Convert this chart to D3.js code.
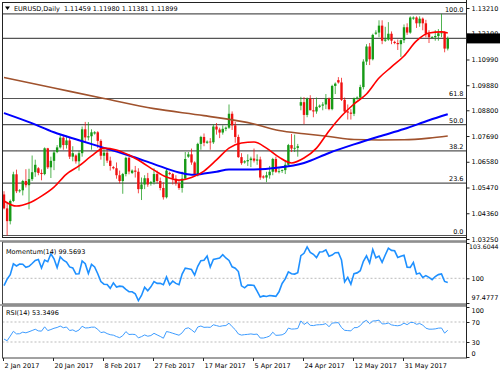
<!DOCTYPE html>
<html>
<head>
<meta charset="utf-8">
<script src="https://cdnjs.cloudflare.com/ajax/libs/d3/7.8.5/d3.min.js"></script>
<style>
  body { margin: 0; background: #fff; }
  text { font-family: "DejaVu Sans", sans-serif; font-size: 6.5px; fill: #000; }
</style>
</head>
<body>
<div id="chart"></div>
<script>
// EURUSD daily bars, 2 Jan - 16 Jun 2017 (broker feed with Sunday bars)
var opens = [
  1.0517,1.0457,1.0402,1.0489,1.0604,1.0531,1.0535,1.0575,1.0557,1.0583,
  1.0613,1.0630,1.0610,1.0605,1.0716,1.0634,1.0662,1.0700,1.0720,1.0762,
  1.0730,1.0750,1.0680,1.0685,1.0660,1.0695,1.0798,1.0763,1.0768,1.0780,
  1.0785,1.0748,1.0684,1.0697,1.0663,1.0635,1.0630,1.0600,1.0575,1.0605,
  1.0675,1.0610,1.0620,1.0615,1.0540,1.0560,1.0587,1.0565,1.0570,1.0605,
  1.0575,1.0545,1.0505,1.0610,1.0605,1.0585,1.0565,1.0545,1.0585,1.0680,
  1.0690,1.0655,1.0605,1.0735,1.0765,1.0740,1.0745,1.0742,1.0810,1.0797,
  1.0784,1.0800,1.0805,1.0865,1.0815,1.0765,1.0678,1.0655,1.0660,1.0665,
  1.0672,1.0663,1.0668,1.0595,1.0590,1.0600,1.0615,1.0670,1.0615,1.0620,
  1.0622,1.0645,1.0730,1.0715,1.0718,1.0900,1.0915,1.0860,1.0930,1.0880,
  1.0875,1.0895,1.0900,1.0905,1.0930,1.0885,1.0985,1.1010,1.1000,1.0925,
  1.0875,1.0870,1.0865,1.0930,1.0935,1.0980,1.1090,1.1155,1.1100,1.1210,
  1.1215,1.1245,1.1180,1.1185,1.1210,1.1175,1.1170,1.1165,1.1182,1.1238,
  1.1215,1.1275,1.1280,1.1255,1.1275,1.1255,1.1210,1.1195,1.1195,1.1200,
  1.1212,1.1215,1.11459
];
var highs = [
  1.0531,1.0485,1.0495,1.0615,1.0624,1.0540,1.0580,1.0626,1.0628,1.0685,
  1.0667,1.0635,1.0625,1.0720,1.0718,1.0680,1.0707,1.0730,1.0775,1.0774,
  1.0770,1.0760,1.0725,1.0690,1.0705,1.0810,1.0830,1.0829,1.0798,1.0790,
  1.0790,1.0755,1.0718,1.0712,1.0680,1.0640,1.0655,1.0620,1.0610,1.0680,
  1.0680,1.0625,1.0640,1.0630,1.0590,1.0600,1.0610,1.0575,1.0630,1.0620,
  1.0590,1.0570,1.0630,1.0615,1.0610,1.0600,1.0575,1.0615,1.0700,1.0700,
  1.0715,1.0660,1.0740,1.0770,1.0780,1.0750,1.0760,1.0820,1.0825,1.0805,
  1.0815,1.0810,1.0905,1.0875,1.0830,1.0775,1.0695,1.0665,1.0690,1.0680,
  1.0715,1.0690,1.0680,1.0600,1.0615,1.0640,1.0675,1.0680,1.0630,1.0625,
  1.0660,1.0735,1.0778,1.0775,1.0735,1.0938,1.0937,1.0935,1.0945,1.0930,
  1.0935,1.0905,1.0915,1.0950,1.0935,1.0990,1.1000,1.1023,1.1020,1.0935,
  1.0905,1.0885,1.0935,1.0940,1.0990,1.1100,1.1165,1.1170,1.1210,1.1225,
  1.1268,1.1268,1.1240,1.1260,1.1220,1.1180,1.1185,1.1185,1.1250,1.1255,
  1.1285,1.1285,1.1285,1.1285,1.1280,1.1270,1.1225,1.1200,1.1225,1.1230,
  1.1296,1.1220,1.11980
];
var lows = [
  1.0453,1.0340,1.0388,1.0484,1.0523,1.0525,1.0513,1.0547,1.0453,1.0575,
  1.0593,1.0600,1.0578,1.0600,1.0627,1.0588,1.0622,1.0695,1.0715,1.0710,
  1.0715,1.0670,1.0660,1.0650,1.0620,1.0680,1.0740,1.0750,1.0710,1.0775,
  1.0717,1.0667,1.0640,1.0653,1.0620,1.0625,1.0585,1.0565,1.0520,1.0595,
  1.0604,1.0605,1.0590,1.0522,1.0493,1.0540,1.0550,1.0555,1.0560,1.0565,
  1.0535,1.0495,1.0500,1.0600,1.0560,1.0555,1.0537,1.0525,1.0580,1.0675,
  1.0645,1.0600,1.0595,1.0710,1.0725,1.0735,1.0710,1.0735,1.0775,1.0760,
  1.0775,1.0790,1.0800,1.0795,1.0740,1.0675,1.0645,1.0650,1.0640,1.0635,
  1.0655,1.0645,1.0580,1.0585,1.0570,1.0585,1.0600,1.0610,1.0608,1.0610,
  1.0605,1.0640,1.0700,1.0700,1.0680,1.0880,1.0820,1.0850,1.0880,1.0850,
  1.0865,1.0890,1.0880,1.0885,1.0880,1.0880,1.0950,1.0995,1.0920,1.0870,
  1.0840,1.0840,1.0855,1.0925,1.0930,1.0970,1.1075,1.1075,1.1095,1.1205,
  1.1195,1.1165,1.1175,1.1180,1.1165,1.1165,1.1140,1.1110,1.1170,1.1205,
  1.1210,1.1270,1.1235,1.1240,1.1225,1.1195,1.1170,1.1190,1.1180,1.1180,
  1.1195,1.1130,1.11381
];
var closes = [
  1.0457,1.0402,1.0489,1.0604,1.0531,1.0535,1.0575,1.0557,1.0583,1.0613,
  1.0645,1.0610,1.0605,1.0716,1.0634,1.0662,1.0698,1.0720,1.0762,1.0730,
  1.0750,1.0680,1.0695,1.0660,1.0695,1.0798,1.0763,1.0768,1.0785,1.0785,
  1.0748,1.0684,1.0697,1.0663,1.0640,1.0630,1.0600,1.0575,1.0605,1.0675,
  1.0616,1.0620,1.0615,1.0540,1.0560,1.0587,1.0560,1.0570,1.0605,1.0575,
  1.0545,1.0505,1.0620,1.0605,1.0585,1.0565,1.0545,1.0585,1.0670,1.0690,
  1.0655,1.0605,1.0735,1.0765,1.0740,1.0745,1.0742,1.0810,1.0797,1.0784,
  1.0800,1.0805,1.0865,1.0815,1.0765,1.0678,1.0652,1.0660,1.0665,1.0672,
  1.0663,1.0668,1.0590,1.0590,1.0600,1.0615,1.0670,1.0615,1.0617,1.0622,
  1.0645,1.0730,1.0715,1.0718,1.0725,1.0915,1.0860,1.0930,1.0880,1.0875,
  1.0895,1.0900,1.0905,1.0930,1.0885,1.0985,1.0995,1.1000,1.0925,1.0875,
  1.0870,1.0865,1.0932,1.0935,1.0980,1.1090,1.1155,1.1100,1.1205,1.1215,
  1.1245,1.1180,1.1185,1.1210,1.1180,1.1170,1.1165,1.1182,1.1238,1.1215,
  1.1280,1.1280,1.1255,1.1275,1.1255,1.1210,1.1195,1.1195,1.1200,1.1212,
  1.1215,1.1146,1.11899
];
// closes before the first visible bar, needed for Momentum(14) / RSI(14)
var prevCloses = [1.0625,1.0535,1.0410,1.0450,1.0450,1.0400,1.0385,1.0425,
                  1.0440,1.0455,1.0455,1.0455,1.0410,1.0495,1.0520];

// moving averages (bar index, value)
var maRedBars = [0,4,8,12,16,20,24,28,32,36,40,44,48,52,56,60,64,68,72,76,80,
                 84,88,92,96,100,104,108,112,116,120,124,128,132,136,140,142];
var maRed = [1.0489,1.0467,1.0480,1.0510,1.0549,1.0605,1.0640,1.0683,1.0717,1.0709,
             1.0687,1.0657,1.0622,1.0592,1.0579,1.0590,1.0618,1.0666,1.0717,1.0739,
             1.0743,1.0717,1.0678,1.0653,1.0674,1.0717,1.0791,1.0855,1.0907,1.0950,
             1.1019,1.1067,1.1114,1.1179,1.1213,1.1218,1.1213];
var maBlueBars = [0,8,16,24,32,40,48,56,60,64,68,72,80,88,96,104,112,120,128,136,142];
var maBlue = [1.0868,1.0829,1.0785,1.0751,1.0718,1.0685,1.0648,1.0612,1.0602,1.0607,
              1.0615,1.0625,1.0625,1.0633,1.0653,1.0696,1.0733,1.0767,1.0799,1.0837,1.0863];
var maBrownBars = [0,16,32,48,64,80,88,96,104,112,120,128,136,142];
var maBrown = [1.1021,1.0976,1.0931,1.0887,1.0857,1.0821,1.0793,1.0779,1.0767,
               1.0754,1.0752,1.0753,1.0760,1.0769];

// Fibonacci retracement
var fibHigh = 1.1296, fibLow = 1.0340;
var fibLevels = [0, 23.6, 38.2, 50, 61.8, 100];
var fibLabels = ["0.0", "23.6", "38.2", "50.0", "61.8", "100.0"];

// axis labels
var priceTicks = [1.13210, 1.12100, 1.10990, 1.09880, 1.08800, 1.07690, 1.06580, 1.05470, 1.04360, 1.03250];
var momTicks = [103.6044, 100, 97.4777];
var momTickLabels = ["103.6044", "100", "97.4777"];
var rsiTicks = [100, 70, 30, 0];
var dateBars = [0, 16, 32, 48, 64, 80, 96, 112, 128];
var dateLabels = ["2 Jan 2017", "20 Jan 2017", "8 Feb 2017", "27 Feb 2017", "17 Mar 2017",
                  "5 Apr 2017", "24 Apr 2017", "12 May 2017", "31 May 2017"];
var headerText = "EURUSD,Daily  1.11459 1.11980 1.11381 1.11899";
var lastPrice = 1.11899;
var momText = "Momentum(14) 99.5693";
var rsiText = "RSI(14) 53.3496";

// ---------------- indicators ----------------
var all = prevCloses.concat(closes);
var off = prevCloses.length;
var momentum = closes.map(function(c, i) { return c / all[i + off - 14] * 100; });

var rsi = [];
var ag = 0, al = 0;
for (var j = 1; j <= 14; j++) {
  var ch = all[j] - all[j - 1];
  if (ch > 0) ag += ch; else al -= ch;
}
ag /= 14; al /= 14;
for (var k = off; k < all.length; k++) {
  var d = all[k] - all[k - 1];
  ag = (ag * 13 + Math.max(d, 0)) / 14;
  al = (al * 13 + Math.max(-d, 0)) / 14;
  rsi.push(al === 0 ? 100 : 100 - 100 / (1 + ag / al));
}

// ---------------- layout ----------------
var W = 500, H = 375;
var left = 2.5, right = 466.5;
var mainTop = 2.5, mainBottom = 237.5;
var momTop = 242, momBottom = 304;
var rsiTop = 306, rsiBottom = 358;

var x = d3.scaleLinear().domain([0, 142]).range([4, 4 + 142 * 3.125]);
var yMain = d3.scaleLinear().domain([1.03250, 1.13210]).range([239, 8]);
var yMom = d3.scaleLinear().domain([97.4777, 103.6044]).range([303, 243]);
var yRsi = d3.scaleLinear().domain([0, 100]).range([357, 307]);

var svg = d3.select("#chart").append("svg")
  .attr("width", W)
  .attr("height", H);

svg.append("rect").attr("width", W).attr("height", H).attr("fill", "#fff");

var defs = svg.append("defs");
defs.append("clipPath").attr("id", "clipMain").append("rect")
  .attr("x", left).attr("y", mainTop).attr("width", right - left).attr("height", mainBottom - mainTop);

var bars = d3.range(closes.length);

// ---------------- main window ----------------
var main = svg.append("g").attr("clip-path", "url(#clipMain)");

// fibo lines + bid line
fibLevels.forEach(function(lv, i) {
  var p = fibLow + (fibHigh - fibLow) * lv / 100;
  main.append("line")
    .attr("x1", left).attr("x2", right)
    .attr("y1", yMain(p)).attr("y2", yMain(p))
    .attr("stroke", "#555").attr("stroke-width", 1.2);
  main.append("text")
    .attr("x", right - 3).attr("y", yMain(p) - 2)
    .attr("text-anchor", "end")
    .attr("fill", "#444")
    .text(fibLabels[i]);
});
main.append("line")
  .attr("x1", left).attr("x2", right)
  .attr("y1", yMain(lastPrice)).attr("y2", yMain(lastPrice))
  .attr("stroke", "#555").attr("stroke-width", 1.2);

// candles
var bull = "#169a16", bear = "#f01010";
main.selectAll(".wick").data(bars).enter().append("line")
  .attr("class", "wick")
  .attr("x1", function(i) { return x(i); })
  .attr("x2", function(i) { return x(i); })
  .attr("y1", function(i) { return yMain(highs[i]); })
  .attr("y2", function(i) { return yMain(lows[i]); })
  .attr("stroke", function(i) { return closes[i] >= opens[i] ? bull : bear; })
  .attr("stroke-opacity", 0.75)
  .attr("stroke-width", 1);

main.selectAll(".body").data(bars).enter().append("rect")
  .attr("class", "body")
  .attr("x", function(i) { return x(i) - 1.2; })
  .attr("width", 2.4)
  .attr("y", function(i) { return yMain(Math.max(opens[i], closes[i])); })
  .attr("height", function(i) {
    return Math.max(0.8, Math.abs(yMain(opens[i]) - yMain(closes[i])));
  })
  .attr("fill", function(i) { return closes[i] >= opens[i] ? bull : bear; });

// moving averages
function maLine(barsArr, vals, color, width) {
  var line = d3.line()
    .x(function(d, i) { return x(barsArr[i]); })
    .y(function(d) { return yMain(d); })
    .curve(d3.curveMonotoneX);
  main.append("path")
    .attr("d", line(vals))
    .attr("fill", "none")
    .attr("stroke", color)
    .attr("stroke-width", width);
}
maLine(maBrownBars, maBrown, "#a0522d", 1.6);
maLine(maBlueBars, maBlue, "#0000ff", 2);
maLine(maRedBars, maRed, "#ff0000", 1.6);

// header
svg.append("path")
  .attr("d", "M5,6.5 L10,6.5 L7.5,10 Z")
  .attr("fill", "#000");
svg.append("text")
  .attr("x", 14).attr("y", 10.5)
  .attr("xml:space", "preserve")
  .text(headerText);

// ---------------- momentum window ----------------
svg.append("line")
  .attr("x1", left).attr("x2", right)
  .attr("y1", yMom(100)).attr("y2", yMom(100))
  .attr("stroke", "#bbb").attr("stroke-dasharray", "2,2");

svg.append("path")
  .attr("d", d3.line()
    .x(function(d, i) { return x(i); })
    .y(function(d) { return yMom(d); })(momentum))
  .attr("fill", "none")
  .attr("stroke", "#1e90ff")
  .attr("stroke-width", 1.6);

svg.append("text").attr("x", 6).attr("y", 253.5).text(momText);

// ---------------- RSI window ----------------
[70, 30].forEach(function(v) {
  svg.append("line")
    .attr("x1", left).attr("x2", right)
    .attr("y1", yRsi(v)).attr("y2", yRsi(v))
    .attr("stroke", "#bbb").attr("stroke-dasharray", "2,2");
});

svg.append("path")
  .attr("d", d3.line()
    .x(function(d, i) { return x(i); })
    .y(function(d) { return yRsi(d); })(rsi))
  .attr("fill", "none")
  .attr("stroke", "#3d9cff")
  .attr("stroke-width", 1);

svg.append("text").attr("x", 6).attr("y", 314.5).text(rsiText);

// ---------------- frames ----------------
svg.append("rect")
  .attr("x", left).attr("y", mainTop)
  .attr("width", right - left).attr("height", mainBottom - mainTop)
  .attr("fill", "none").attr("stroke", "#222");
svg.append("rect")
  .attr("x", left).attr("y", momTop)
  .attr("width", right - left).attr("height", momBottom - momTop)
  .attr("fill", "none").attr("stroke", "#444");
svg.append("rect")
  .attr("x", left).attr("y", rsiTop)
  .attr("width", right - left).attr("height", rsiBottom - rsiTop)
  .attr("fill", "none").attr("stroke", "#444");
svg.append("line")
  .attr("x1", 0).attr("x2", right).attr("y1", 241).attr("y2", 241)
  .attr("stroke", "#888").attr("stroke-width", 1.5);
svg.append("line")
  .attr("x1", 0).attr("x2", right).attr("y1", 305).attr("y2", 305)
  .attr("stroke", "#888").attr("stroke-width", 1.5);
svg.append("line")
  .attr("x1", right).attr("x2", right).attr("y1", 0).attr("y2", rsiBottom)
  .attr("stroke", "#222");

// ---------------- axes ----------------
function styleAxis(g) {
  g.select(".domain").remove();
  g.selectAll(".tick line").attr("stroke", "#222");
  g.selectAll("text").attr("font-size", null).attr("font-family", null);
}

svg.append("g")
  .attr("transform", "translate(" + right + ",0)")
  .call(d3.axisRight(yMain).tickValues(priceTicks).tickSize(3).tickPadding(2)
    .tickFormat(d3.format(".5f")))
  .call(styleAxis);

var momAxis = svg.append("g")
  .attr("transform", "translate(" + right + ",0)")
  .call(d3.axisRight(yMom).tickValues(momTicks).tickSize(3).tickPadding(2)
    .tickFormat(function(d, i) { return momTickLabels[i]; }))
  .call(styleAxis);
momAxis.selectAll(".tick").filter(function(d) { return d === 103.6044; })
  .select("text").attr("dy", "0.9em").attr("x", 2.5).style("font-size", "6.2px");
momAxis.selectAll(".tick").filter(function(d) { return d === 97.4777; })
  .select("text").attr("dy", "-0.6em");

var rsiAxis = svg.append("g")
  .attr("transform", "translate(" + right + ",0)")
  .call(d3.axisRight(yRsi).tickValues(rsiTicks).tickSize(3).tickPadding(2))
  .call(styleAxis);
rsiAxis.selectAll(".tick").filter(function(d) { return d === 100; })
  .select("text").attr("dy", "0.8em");
rsiAxis.selectAll(".tick").filter(function(d) { return d === 0; })
  .select("text").attr("dy", "-0.3em");

svg.append("g")
  .attr("transform", "translate(-1," + rsiBottom + ")")
  .call(d3.axisBottom(x).tickValues(dateBars).tickSize(3).tickPadding(2)
    .tickFormat(function(d, i) { return dateLabels[i]; }))
  .call(styleAxis)
  .selectAll("text")
  .attr("text-anchor", "start")
  .attr("dx", 1);

// current price tag
svg.append("rect")
  .attr("x", right + 0.5).attr("y", yMain(lastPrice) - 5)
  .attr("width", W - right).attr("height", 10)
  .attr("fill", "#000");
svg.append("text")
  .attr("x", right + 5).attr("y", yMain(lastPrice) + 2.3)
  .attr("fill", "#fff")
  .text(d3.format(".5f")(lastPrice));
</script>
</body>
</html>
